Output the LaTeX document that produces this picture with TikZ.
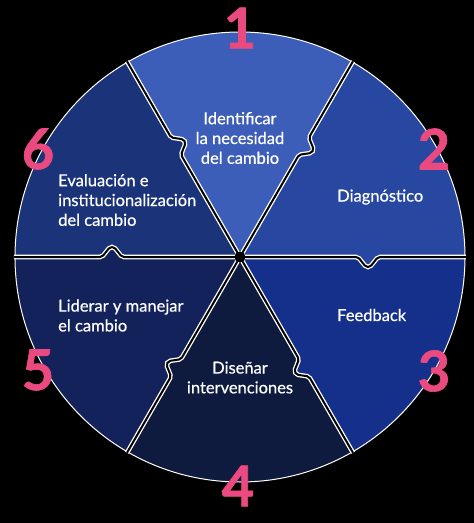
\documentclass[tikz,border=0pt]{standalone}
\usepackage{fontspec}
\setmainfont{Lato}
\newfontfamily\lblfont{Lato}[FakeBold=0.6]
\newfontfamily\numfont{Lato}[FakeBold=1.2]
\definecolor{segA}{HTML}{3D5EB8}
\definecolor{segB}{HTML}{2747A1}
\definecolor{segC}{HTML}{15308B}
\definecolor{segD}{HTML}{0F1A3F}
\definecolor{segE}{HTML}{13225A}
\definecolor{segF}{HTML}{1B3379}
\definecolor{numpink}{HTML}{EA4A80}
\begin{document}
\begin{tikzpicture}[x=1pt,y=1pt,
  seglabel/.style={text=white, font=\lblfont\fontsize{16.5}{19.8}\selectfont, inner sep=0pt},
  numlabel/.style={text=numpink, font=\numfont\fontsize{56}{56}\selectfont\bfseries, inner sep=0pt},
  gapline/.style={white, line width=1.3pt, double=black, double distance=2pt}]
\useasboundingbox[fill=black] (-240,-266) rectangle (234,257);
% segments
\foreach \a/\c in {60/segA, 0/segB, -60/segC, -120/segD, 180/segE, 120/segF}{
  \fill[\c, rotate=\a] (0,0) -- (116,0) .. controls (121,0) and (123,-10) .. (128,-10)
    .. controls (133,-10) and (135,0) .. (140,0) -- (225,0)
    arc[start angle=0, end angle=60, radius=225]
    -- ([rotate=60]140,0) .. controls ([rotate=60]135,0) and ([rotate=60]133,-10) .. ([rotate=60]128,-10)
    .. controls ([rotate=60]123,-10) and ([rotate=60]121,0) .. ([rotate=60]116,0) -- cycle;
}
\draw[white, line width=1pt] (0,0) circle[radius=225];
% boundaries
\foreach \a in {0,60,...,300}{
  \draw[gapline, rotate=\a] (0,0) -- (116,0) .. controls (121,0) and (123,-10) .. (128,-10)
    .. controls (133,-10) and (135,0) .. (140,0) -- (226,0);
}
\fill[black] (0,0) circle[radius=5.5];
% labels
\node[seglabel, align=center] (t1) at (0,119) {Identificar\\la necesidad\\del cambio};
\node[seglabel, anchor=west] (t2) at (97,60) {Diagnóstico};
\node[seglabel, anchor=west] (t3) at (97,-58) {Feedback};
\node[seglabel, align=center] (t4) at (0,-120.5) {Diseñar\\intervenciones};
\node[seglabel, align=left, anchor=west] (t5) at (-182,-58.5) {Liderar y manejar\\el cambio};
\node[seglabel, align=left, anchor=west] (t6) at (-182,57) {Evaluación e\\institucionalización\\del cambio};
% numbers
\node[numlabel] (n1) at (0,229) {1};
\node[numlabel] (n2) at (194,108) {2};
\node[numlabel] (n3) at (194,-114) {3};
\node[numlabel] (n4) at (-2,-229) {4};
\node[numlabel] (n5) at (-202,-113) {5};
\node[numlabel] (n6) at (-202,108) {6};
\end{tikzpicture}
\end{document}
